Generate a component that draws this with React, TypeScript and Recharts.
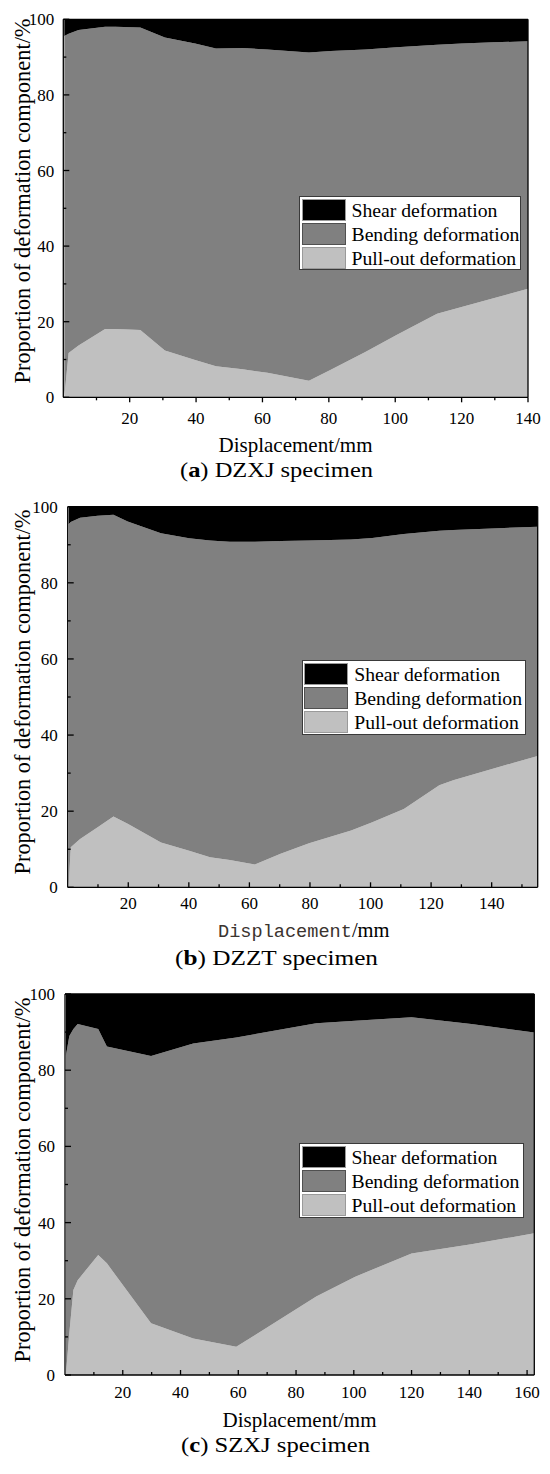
import React from 'react';
import { AreaChart, Area, XAxis, YAxis, Legend } from 'recharts';

const SERIF = '"Liberation Serif", "Times New Roman", serif';
const MONO = '"Liberation Mono", "DejaVu Sans Mono", monospace';

const seriesNames = ['Shear deformation', 'Bending deformation', 'Pull-out deformation'];
const seriesColors = ['#000000', '#808080', '#c0c0c0'];
const swatchBorders = ['#9a9a9a', '#505050', '#9a9a9a'];

const yTicks = [0, 10, 20, 30, 40, 50, 60, 70, 80, 90, 100];

// (a) DZXJ specimen
const dispA = [0.3, 1.6, 4.6, 12.6, 15.7, 23.2, 30.6, 39.7, 46, 54, 61.5, 74, 80.6, 91, 100.4, 112.6, 120, 129.6, 140];
const pullA = [0, 11.7, 13.7, 18.1, 18.1, 17.8, 12.4, 9.9, 8.2, 7.4, 6.5, 4.4, 7.3, 12.0, 16.5, 22.1, 23.9, 26.2, 28.7];
const bendA = [95.6, 84.5, 83.5, 79.9, 79.9, 80.0, 82.8, 83.7, 84.1, 85.0, 85.5, 86.8, 84.3, 80.0, 76.1, 71.2, 69.7, 67.7, 65.5];
const shearA = [4.4, 3.8, 2.8, 2.0, 2.0, 2.2, 4.8, 6.4, 7.7, 7.6, 8.0, 8.8, 8.4, 8.0, 7.4, 6.7, 6.4, 6.1, 5.8];
const xTicksA = [10, 20, 30, 40, 50, 60, 70, 80, 90, 100, 110, 120, 130, 140];

// (b) DZZT specimen
const dispB = [0.3, 1.0, 4.1, 9.9, 15.1, 19.8, 30.8, 40.1, 47, 53.5, 61.8, 70.3, 79.7, 93.6, 100.6, 111, 122.7, 127.3, 140.1, 155.2];
const pullB = [0, 10.5, 12.7, 15.8, 18.6, 16.7, 11.8, 9.6, 7.9, 7.2, 6.0, 8.8, 11.6, 14.9, 17.1, 20.6, 26.8, 28.1, 31.1, 34.5];
const bendB = [95.4, 85.5, 84.4, 81.8, 79.3, 79.4, 81.2, 82.1, 83.2, 83.6, 84.8, 82.2, 79.5, 76.5, 74.7, 72.2, 66.9, 65.8, 63.2, 60.2];
const shearB = [4.6, 4.0, 2.9, 2.4, 2.1, 3.9, 7.0, 8.3, 8.9, 9.2, 9.2, 9.0, 8.9, 8.6, 8.2, 7.2, 6.3, 6.1, 5.7, 5.3];
const xTicksB = [10, 20, 30, 40, 50, 60, 70, 80, 90, 100, 110, 120, 130, 140, 150];

// (c) SZXJ specimen
const dispC = [0.3, 1.5, 2.9, 4.4, 11.5, 14.5, 29.8, 44.4, 59.3, 87, 100.5, 120, 140.7, 162.5];
const pullC = [0, 11.0, 22.3, 24.9, 31.5, 29.3, 13.6, 9.6, 7.4, 20.6, 25.8, 31.9, 34.3, 37.2];
const bendC = [83.8, 78.0, 68.5, 67.2, 59.3, 56.9, 70.1, 77.4, 81.2, 71.7, 67.2, 62.0, 57.8, 52.7];
const shearC = [16.2, 11.0, 9.2, 7.9, 9.2, 13.8, 16.3, 13.0, 11.4, 7.7, 7.0, 6.1, 7.9, 10.1];
const xTicksC = [10, 20, 30, 40, 50, 60, 70, 80, 90, 100, 110, 120, 130, 140, 150, 160];

const build = (xs: number[], p: number[], b: number[], s: number[]) =>
  xs.map((x, i) => ({ x, pull: p[i], bend: b[i], shear: s[i] }));

const panels = [
  {
    id: 'a', top: 0, height: 490, data: build(dispA, pullA, bendA, shearA), xMax: 140, xTicks: xTicksA,
    plotLeft: 63.3, plotRight: 528, plotTop: 19.3, plotBottom: 397.3,
    xInside: false, xLabelDy: 27, yGap: 9,
    yTitleY: 201, xTitleX: 295.5, xTitleY: 451.7, monoTitle: false,
    legend: { left: 299, top: 196, width: 222, height: 74 },
    caption: { letter: 'a', rest: ' DZXJ specimen', x: 180, y: 476.7, len: 193 },
  },
  {
    id: 'b', top: 490, height: 490, data: build(dispB, pullB, bendB, shearB), xMax: 155.2, xTicks: xTicksB,
    plotLeft: 67.7, plotRight: 537.7, plotTop: 16.7, plotBottom: 397.3,
    xInside: true, xLabelDy: 22, yGap: 10,
    yTitleY: 202, xTitleX: 218, xTitleY: 447, monoTitle: true,
    legend: { left: 301.7, top: 170, width: 224.3, height: 75 },
    caption: { letter: 'b', rest: ' DZZT specimen', x: 175, y: 474.5, len: 203 },
  },
  {
    id: 'c', top: 980, height: 494, data: build(dispC, pullC, bendC, shearC), xMax: 162.5, xTicks: xTicksC,
    plotLeft: 65, plotRight: 534.3, plotTop: 14, plotBottom: 395,
    xInside: true, xLabelDy: 23, yGap: 10,
    yTitleY: 200, xTitleX: 299.5, xTitleY: 446.7, monoTitle: false,
    legend: { left: 299, top: 163.3, width: 224.6, height: 75 },
    caption: { letter: 'c', rest: ' SZXJ specimen', x: 181, y: 471.7, len: 189 },
  },
];

const XTick = (props: any) => {
  const { x, y, payload, inside, labelDy } = props;
  const v = payload.value;
  const major = v % 20 === 0;
  const len = major ? 5 : 3;
  const y2 = inside ? y - len : y + len;
  return (
    <g>
      <line x1={x} x2={x} y1={y} y2={y2} stroke="#000" strokeWidth={1.3} />
      {major && (
        <text x={x} y={y + labelDy} textAnchor="middle" fontFamily={SERIF} fontSize={17} fill="#000">
          {v}
        </text>
      )}
    </g>
  );
};

const YTick = (props: any) => {
  const { x, y, payload, gap } = props;
  const v = payload.value;
  const major = v % 20 === 0;
  const len = major ? 6 : 3;
  return (
    <g>
      <line x1={x} x2={x + len} y1={y} y2={y} stroke="#000" strokeWidth={1.3} />
      {major && (
        <text x={x - gap} y={y + 6} textAnchor="end" fontFamily={SERIF} fontSize={17} fill="#000">
          {v}
        </text>
      )}
    </g>
  );
};

const LegendBox = ({ width, height }: { width: number; height: number }) => (
  <div
    style={{
      position: 'relative', width, height, boxSizing: 'border-box', background: '#fff',
      border: '1px solid #3a3a3a', fontFamily: SERIF,
    }}
  >
    {seriesNames.map((name, i) => (
      <div key={name} style={{ position: 'absolute', left: 1.5, top: 1.7 + i * 24, height: 22, width: width - 4 }}>
        <div
          style={{
            position: 'absolute', left: 0, top: 0, width: 44, height: 22, boxSizing: 'border-box',
            background: seriesColors[i], border: `1px solid ${swatchBorders[i]}`,
          }}
        />
        <div
          style={{
            position: 'absolute', left: 50, top: 0, height: 22, lineHeight: '22px', fontSize: 19.7,
            color: '#000', whiteSpace: 'nowrap',
          }}
        >
          {name}
        </div>
      </div>
    ))}
  </div>
);

const Panel = ({ cfg }: { cfg: any }) => {
  const frame = { stroke: '#000', strokeWidth: 1.3 };
  return (
    <div style={{ position: 'absolute', left: 0, top: cfg.top, width: 550, height: cfg.height }}>
      <AreaChart
        width={550}
        height={cfg.height}
        data={cfg.data}
        margin={{ top: cfg.plotTop - 1, right: 550 - cfg.plotRight - 1, bottom: cfg.height - cfg.plotBottom - 1, left: 0 }}
      >
        <Area type="linear" dataKey="pull" name={seriesNames[2]} stackId="s" fill={seriesColors[2]} fillOpacity={1} stroke="none" dot={false} activeDot={false} isAnimationActive={false} />
        <Area type="linear" dataKey="bend" name={seriesNames[1]} stackId="s" fill={seriesColors[1]} fillOpacity={1} stroke="none" dot={false} activeDot={false} isAnimationActive={false} />
        <Area type="linear" dataKey="shear" name={seriesNames[0]} stackId="s" fill={seriesColors[0]} fillOpacity={1} stroke="none" dot={false} activeDot={false} isAnimationActive={false} />
        <XAxis
          dataKey="x" type="number" domain={[0, cfg.xMax]} ticks={cfg.xTicks} interval={0} allowDataOverflow
          height={1} tickSize={0} tickMargin={0} tickLine={false} axisLine={frame}
          tick={(p: any) => <XTick {...p} inside={cfg.xInside} labelDy={cfg.xLabelDy} />}
          label={() =>
            cfg.monoTitle ? (
              <text x={cfg.xTitleX} y={cfg.xTitleY} textAnchor="start">
                <tspan fontFamily={MONO} fontSize={18.6} fill="#3b342f">Displacement</tspan>
                <tspan fontFamily={SERIF} fontSize={20.5} fill="#000">/mm</tspan>
              </text>
            ) : (
              <text x={cfg.xTitleX} y={cfg.xTitleY} textAnchor="middle" fontFamily={SERIF} fontSize={21} fill="#000">
                Displacement/mm
              </text>
            )
          }
        />
        <YAxis
          type="number" domain={[0, 100]} ticks={yTicks} interval={0} width={cfg.plotLeft}
          tickSize={0} tickMargin={0} tickLine={false} axisLine={frame}
          tick={(p: any) => <YTick {...p} gap={cfg.yGap} />}
          label={() => (
            <text
              transform={`translate(29.5, ${cfg.yTitleY}) rotate(-90)`}
              textAnchor="middle" fontFamily={SERIF} fontSize={22.4} fill="#000"
            >
              Proportion of deformation component/%
            </text>
          )}
        />
        <XAxis xAxisId="top" orientation="top" type="number" domain={[0, cfg.xMax]} height={1} tick={false} tickLine={false} axisLine={frame} />
        <YAxis yAxisId="right" orientation="right" type="number" domain={[0, 100]} width={1} tick={false} tickLine={false} axisLine={frame} />
        <Legend
          verticalAlign="middle" align="center" layout="horizontal"
          wrapperStyle={{ position: 'absolute', left: cfg.legend.left, top: cfg.legend.top, width: cfg.legend.width, height: cfg.legend.height }}
          content={() => <LegendBox width={cfg.legend.width} height={cfg.legend.height} />}
        />
      </AreaChart>
      <svg width={550} height={cfg.height} style={{ position: 'absolute', left: 0, top: 0, pointerEvents: 'none' }}>
        <text
          x={cfg.caption.x} y={cfg.caption.y} fontFamily={SERIF} fontSize={22} fill="#000"
          textLength={cfg.caption.len} lengthAdjust="spacingAndGlyphs"
        >
          (<tspan fontWeight="bold">{cfg.caption.letter}</tspan>){cfg.caption.rest}
        </text>
      </svg>
    </div>
  );
};

export default function App() {
  return (
    <div style={{ position: 'absolute', left: 0, top: 0, width: 550, height: 1474, background: '#fff', fontFamily: SERIF }}>
      {panels.map((cfg) => (
        <Panel key={cfg.id} cfg={cfg} />
      ))}
    </div>
  );
}
